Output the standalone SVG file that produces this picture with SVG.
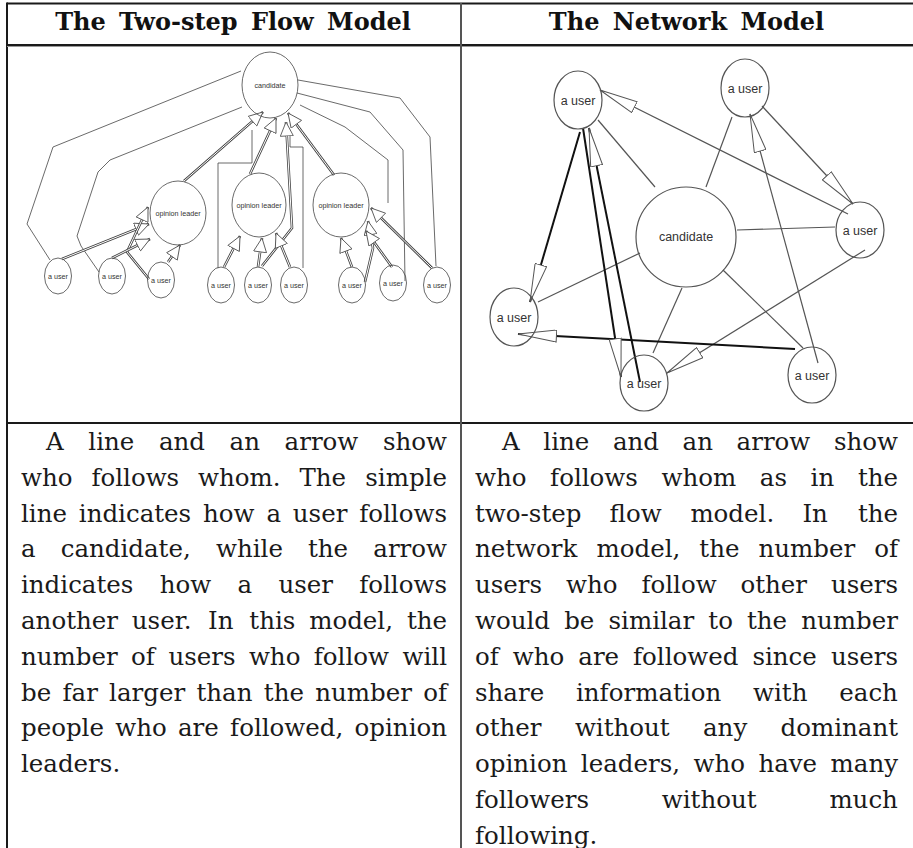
<svg xmlns="http://www.w3.org/2000/svg" width="913" height="848" viewBox="0 0 913 848">
<style>
.hd{font-family:"DejaVu Serif","Liberation Serif",serif;font-weight:bold;font-size:24px;fill:#111;text-anchor:middle;word-spacing:5px}
.b{font-family:"DejaVu Serif","Liberation Serif",serif;font-size:24.5px;fill:#1a1a1a}
.sl{font-family:"Liberation Sans",Arial,sans-serif;font-size:7.2px;fill:#333;text-anchor:middle}
.nl{font-family:"Liberation Sans",Arial,sans-serif;font-size:12.5px;fill:#333;text-anchor:middle}
.se{fill:none;stroke:#444;stroke-width:0.8}
.ne{fill:none;stroke:#555;stroke-width:1.2}
.ls{fill:none;stroke:#444;stroke-width:0.8;stroke-linejoin:round}
.sd{fill:none;stroke:#444;stroke-width:2.6;stroke-linejoin:round}
.sw{fill:none;stroke:#fff;stroke-width:1.0;stroke-linejoin:round;marker-end:url(#hL)}
.nsl{fill:none;stroke:#555;stroke-width:1.2}
.na{fill:none;stroke:#555;stroke-width:1.2;marker-end:url(#hN)}
.nb{fill:none;stroke:#111;stroke-width:2;marker-end:url(#hN)}
.tb{stroke:#1a1a1a;stroke-width:2;fill:none}
</style>
<defs>
<marker id="hL" markerUnits="userSpaceOnUse" viewBox="0 0 15 14" markerWidth="15" markerHeight="14" refX="14.5" refY="7" orient="auto">
<path d="M0.5,0.5 L14.5,7 L0.5,13.5 Z" fill="#fff" stroke="#444" stroke-width="0.8"/>
</marker>
<marker id="hN" markerUnits="userSpaceOnUse" viewBox="0 0 40 13" markerWidth="40" markerHeight="13" refX="39" refY="6.5" orient="auto">
<path d="M0.5,0.5 L39,6.5 L0.5,12.5 Z" fill="#fff" stroke="#555" stroke-width="1"/>
</marker>
</defs>
<rect width="913" height="848" fill="#fff"/>
<g id="table">
<line class="tb" x1="7" y1="3.5" x2="913" y2="3.5"/>
<line class="tb" x1="7" y1="2.5" x2="7" y2="848"/>
<line class="tb" x1="7" y1="45" x2="913" y2="45"/>
<line x1="7" y1="46.5" x2="913" y2="46.5" stroke="#999" stroke-width="1"/>
<line class="tb" x1="7" y1="423" x2="913" y2="423"/>
<line x1="461" y1="3" x2="461" y2="848" stroke="#555" stroke-width="2"/>
</g>
<g id="headers">
<text class="hd" x="233" y="30">The Two-step Flow Model</text>
<text class="hd" x="686.5" y="30">The Network Model</text>
</g>
<g id="connectors">
<g id="two-step-lines">
<polyline class="ls" points="50,260 27,224 53,147 241,71"/>
<polyline class="ls" points="99,272 81,246 77,236 98,172 110,160 242,107"/>
<polyline class="ls" points="218,268 218,163 252,163 252,130"/>
<polyline class="ls" points="303,268 303,147 290,147 290,130"/>
<polyline class="ls" points="405,281 403,150 370,112 297,93"/>
<polyline class="ls" points="436,266 430,137 400,98 298,80"/>
<polyline class="ls" points="300,105 345,127 388,160 388,203"/>
</g>
<g id="two-step-arrows">
<polyline class="sd" points="184,181 263,112"/><polyline class="sw" points="184,181 263,112"/>
<polyline class="sd" points="250,174 276,118"/><polyline class="sw" points="250,174 276,118"/>
<polyline class="sd" points="334,175 288,113"/><polyline class="sw" points="334,175 288,113"/>
<polyline class="sd" points="262,266 292,228 286,122"/><polyline class="sw" points="262,266 292,228 286,122"/>
<polyline class="sd" points="62,259 149,224"/><polyline class="sw" points="62,259 149,224"/>
<polyline class="sd" points="149,279 127,252 148,207"/><polyline class="sw" points="149,279 127,252 148,207"/>
<polyline class="sd" points="112,258 150,239"/><polyline class="sw" points="112,258 150,239"/>
<polyline class="sd" points="168,262 180,245"/><polyline class="sw" points="168,262 180,245"/>
<polyline class="sd" points="224,267 240,236"/><polyline class="sw" points="224,267 240,236"/>
<polyline class="sd" points="258,267 262,238"/><polyline class="sw" points="258,267 262,238"/>
<polyline class="sd" points="290,267 276,233"/><polyline class="sw" points="290,267 276,233"/>
<polyline class="sd" points="352,267 341,238"/><polyline class="sw" points="352,267 341,238"/>
<polyline class="sd" points="365,282 373,248 368,221"/><polyline class="sw" points="365,282 373,248 368,221"/>
<polyline class="sd" points="392,267 366,231"/><polyline class="sw" points="392,267 366,231"/>
<polyline class="sd" points="432,268 371,208"/><polyline class="sw" points="432,268 371,208"/>
</g>
<g id="network-lines">
<line class="nsl" x1="598" y1="120" x2="655" y2="187"/>
<line class="nsl" x1="732" y1="117" x2="706" y2="187"/>
<line class="nsl" x1="835" y1="227" x2="737" y2="230"/>
<line class="nsl" x1="538" y1="302" x2="640" y2="253"/>
<line class="nsl" x1="653" y1="353" x2="682" y2="288"/>
<line class="nsl" x1="803" y1="348" x2="723" y2="270"/>
</g>
<g id="network-arrows">
<line class="na" x1="848" y1="214" x2="600" y2="90"/>
<line class="na" x1="762" y1="106" x2="853" y2="204"/>
<line class="na" x1="818" y1="363" x2="750" y2="114"/>
<line class="na" x1="865" y1="250" x2="667" y2="373"/>
<line class="nb" x1="795" y1="349" x2="518" y2="334"/>
<line class="nb" x1="580" y1="132" x2="530" y2="302"/>
<line class="nb" x1="583" y1="128" x2="621" y2="377"/>
<line class="nb" x1="640" y1="382" x2="589" y2="128"/>
</g>
</g>
<g id="two-step-nodes">
<g id="ts-candidate"><ellipse class="se" cx="270" cy="85" rx="28" ry="33"/><text class="sl" x="270" y="87.5">candidate</text></g>
<g id="ts-ol1"><ellipse class="se" cx="178" cy="213" rx="28" ry="32"/><text class="sl" x="178" y="215.5">opinion leader</text></g>
<g id="ts-ol2"><ellipse class="se" cx="259" cy="205" rx="27" ry="32"/><text class="sl" x="259" y="208">opinion leader</text></g>
<g id="ts-ol3"><ellipse class="se" cx="341" cy="205" rx="28" ry="32"/><text class="sl" x="341" y="208">opinion leader</text></g>
<g id="ts-u1"><ellipse class="se" cx="58" cy="276" rx="13.5" ry="18"/><text class="sl" x="58" y="279">a user</text></g>
<g id="ts-u2"><ellipse class="se" cx="112" cy="276" rx="13.5" ry="18"/><text class="sl" x="112" y="279">a user</text></g>
<g id="ts-u3"><ellipse class="se" cx="161" cy="280" rx="13.5" ry="18"/><text class="sl" x="161" y="283">a user</text></g>
<g id="ts-u4"><ellipse class="se" cx="221" cy="285" rx="13.5" ry="18"/><text class="sl" x="221" y="287.5">a user</text></g>
<g id="ts-u5"><ellipse class="se" cx="258" cy="285" rx="13.5" ry="18"/><text class="sl" x="258" y="287.5">a user</text></g>
<g id="ts-u6"><ellipse class="se" cx="294" cy="285" rx="13.5" ry="18"/><text class="sl" x="294" y="287.5">a user</text></g>
<g id="ts-u7"><ellipse class="se" cx="352" cy="285" rx="13.5" ry="18"/><text class="sl" x="352" y="287.5">a user</text></g>
<g id="ts-u8"><ellipse class="se" cx="393" cy="283" rx="13.5" ry="18"/><text class="sl" x="393" y="286">a user</text></g>
<g id="ts-u9"><ellipse class="se" cx="437" cy="285" rx="13.5" ry="18"/><text class="sl" x="437" y="287.5">a user</text></g>
</g>
<g id="network-nodes">
<g id="nw-candidate"><ellipse class="ne" cx="686" cy="237" rx="50" ry="50"/><text class="nl" x="686" y="241">candidate</text></g>
<g id="nw-u1"><ellipse class="ne" cx="578" cy="100" rx="24" ry="29"/><text class="nl" x="578" y="105">a user</text></g>
<g id="nw-u2"><ellipse class="ne" cx="745" cy="88" rx="24" ry="29"/><text class="nl" x="745" y="93">a user</text></g>
<g id="nw-u3"><ellipse class="ne" cx="860" cy="230" rx="24" ry="28"/><text class="nl" x="860" y="235">a user</text></g>
<g id="nw-u4"><ellipse class="ne" cx="514" cy="317" rx="24" ry="29"/><text class="nl" x="514" y="322">a user</text></g>
<g id="nw-u5"><ellipse class="ne" cx="644" cy="383" rx="24" ry="28"/><text class="nl" x="644" y="388">a user</text></g>
<g id="nw-u6"><ellipse class="ne" cx="812" cy="375" rx="24" ry="28"/><text class="nl" x="812" y="380">a user</text></g>
</g>
<g id="text-left">
<text class="b" y="450"><tspan x="46">A</tspan><tspan x="88.3">line</tspan><tspan x="158.9">and</tspan><tspan x="229.6">an</tspan><tspan x="284.6">arrow</tspan><tspan x="382.9">show</tspan></text>
<text class="b" y="485.8"><tspan x="21">who</tspan><tspan x="91.4">follows</tspan><tspan x="198">whom.</tspan><tspan x="299.4">The</tspan><tspan x="365.3">simple</tspan></text>
<text class="b" y="521.6"><tspan x="21">line</tspan><tspan x="78.8">indicates</tspan><tspan x="203.1">how</tspan><tspan x="266.4">a</tspan><tspan x="292.8">user</tspan><tspan x="359.2">follows</tspan></text>
<text class="b" y="557.4"><tspan x="21">a</tspan><tspan x="60.7">candidate,</tspan><tspan x="216">while</tspan><tspan x="308">the</tspan><tspan x="373.3">arrow</tspan></text>
<text class="b" y="593.2"><tspan x="21">indicates</tspan><tspan x="159.7">how</tspan><tspan x="237.5">a</tspan><tspan x="278.4">user</tspan><tspan x="359.2">follows</tspan></text>
<text class="b" y="629"><tspan x="21">another</tspan><tspan x="131.8">user.</tspan><tspan x="208.1">In</tspan><tspan x="249.3">this</tspan><tspan x="309.2">model,</tspan><tspan x="406.9">the</tspan></text>
<text class="b" y="664.8"><tspan x="21">number</tspan><tspan x="131.1">of</tspan><tspan x="168.4">users</tspan><tspan x="248.9">who</tspan><tspan x="313.8">follow</tspan><tspan x="402.5">will</tspan></text>
<text class="b" y="700.6"><tspan x="21">be</tspan><tspan x="62.5">far</tspan><tspan x="109.1">larger</tspan><tspan x="196.5">than</tspan><tspan x="263.8">the</tspan><tspan x="315.2">number</tspan><tspan x="423.2">of</tspan></text>
<text class="b" y="736.4"><tspan x="21">people</tspan><tspan x="115.2">who</tspan><tspan x="178">are</tspan><tspan x="230.1">followed,</tspan><tspan x="354.6">opinion</tspan></text>
<text class="b" y="772.2"><tspan x="21">leaders.</tspan></text>
</g>
<g id="text-right">
<text class="b" y="450"><tspan x="502">A</tspan><tspan x="543.3">line</tspan><tspan x="612.9">and</tspan><tspan x="682.6">an</tspan><tspan x="736.6">arrow</tspan><tspan x="833.9">show</tspan></text>
<text class="b" y="485.8"><tspan x="475">who</tspan><tspan x="550.1">follows</tspan><tspan x="661.5">whom</tspan><tspan x="759.8">as</tspan><tspan x="810.6">in</tspan><tspan x="857.9">the</tspan></text>
<text class="b" y="521.6"><tspan x="475">two-step</tspan><tspan x="609.6">flow</tspan><tspan x="690.4">model.</tspan><tspan x="802.4">In</tspan><tspan x="857.9">the</tspan></text>
<text class="b" y="557.4"><tspan x="475">network</tspan><tspan x="596.5">model,</tspan><tspan x="699.3">the</tspan><tspan x="758.5">number</tspan><tspan x="874.2">of</tspan></text>
<text class="b" y="593.2"><tspan x="475">users</tspan><tspan x="566">who</tspan><tspan x="641.4">follow</tspan><tspan x="740.4">other</tspan><tspan x="830.9">users</tspan></text>
<text class="b" y="629"><tspan x="475">would</tspan><tspan x="564.2">be</tspan><tspan x="608.5">similar</tspan><tspan x="708.3">to</tspan><tspan x="747">the</tspan><tspan x="801.3">number</tspan></text>
<text class="b" y="664.8"><tspan x="475">of</tspan><tspan x="512.8">who</tspan><tspan x="578.3">are</tspan><tspan x="633">followed</tspan><tspan x="752.4">since</tspan><tspan x="830.9">users</tspan></text>
<text class="b" y="700.6"><tspan x="475">share</tspan><tspan x="576">information</tspan><tspan x="753">with</tspan><tspan x="839.3">each</tspan></text>
<text class="b" y="736.4"><tspan x="475">other</tspan><tspan x="574.9">without</tspan><tspan x="703">any</tspan><tspan x="780.5">dominant</tspan></text>
<text class="b" y="772.2"><tspan x="475">opinion</tspan><tspan x="580.8">leaders,</tspan><tspan x="693.5">who</tspan><tspan x="758.4">have</tspan><tspan x="830.6">many</tspan></text>
<text class="b" y="808"><tspan x="475">followers</tspan><tspan x="661.8">without</tspan><tspan x="829.4">much</tspan></text>
<text class="b" y="843.8"><tspan x="475">following.</tspan></text>
</g>
</svg>
